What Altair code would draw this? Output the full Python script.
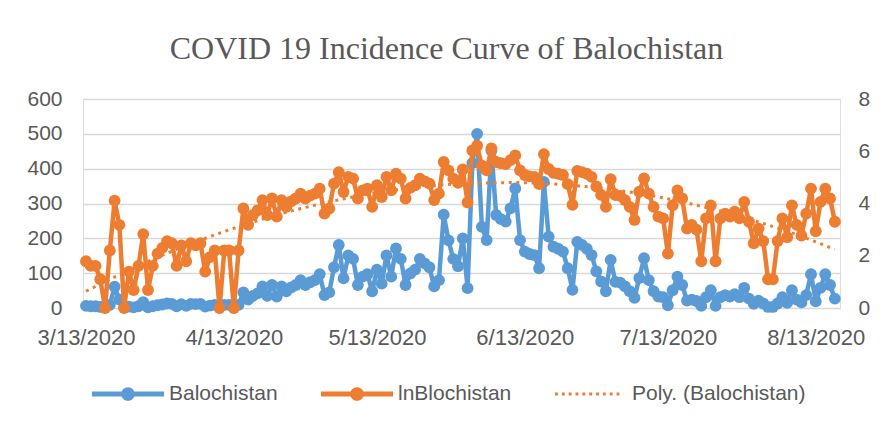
import altair as alt
import pandas as pd

# ---------------- data ----------------
start_date = "2020-03-13"

balochistan = [
    6, 5, 5, 3, 1, 9, 61, 24, 1, 4,
    2, 5, 17, 2, 5, 8, 10, 13, 12, 5,
    11, 6, 12, 11, 12, 4, 7, 9, 1, 9,
    9, 1, 9, 45, 24, 35, 42, 62, 35, 66,
    33, 62, 48, 59, 66, 80, 66, 74, 80, 97,
    37, 45, 117, 181, 85, 151, 141, 66, 90, 97,
    48, 110, 70, 151, 90, 171, 141, 66, 99, 110,
    141, 128, 117, 62, 80, 268, 194, 141, 120, 200,
    57, 416, 500, 233, 195, 452, 267, 255, 248, 286,
    343, 195, 162, 155, 152, 114, 362, 205, 176, 170,
    162, 114, 52, 190, 181, 170, 152, 105, 76, 48,
    138, 75, 73, 62, 48, 29, 86, 143, 80, 48,
    33, 31, 8, 51, 90, 66, 21, 24, 20, 6,
    31, 51, 6, 31, 37, 33, 40, 31, 58, 27,
    12, 21, 13, 3, 3, 13, 31, 15, 51, 24,
    16, 37, 97, 19, 58, 97, 66, 27,
]

ln_balochistan = [
    1.79, 1.61, 1.61, 1.10, 0.00, 2.20, 4.11, 3.18, 0.00, 1.39,
    0.69, 1.61, 2.83, 0.69, 1.61, 2.08, 2.30, 2.56, 2.48, 1.61,
    2.40, 1.79, 2.48, 2.40, 2.48, 1.39, 1.95, 2.20, 0.00, 2.20,
    2.20, 0.00, 2.20, 3.81, 3.18, 3.56, 3.74, 4.13, 3.56, 4.19,
    3.50, 4.13, 3.87, 4.08, 4.19, 4.38, 4.19, 4.30, 4.38, 4.57,
    3.61, 3.81, 4.76, 5.20, 4.44, 5.02, 4.95, 4.19, 4.50, 4.57,
    3.87, 4.70, 4.25, 5.02, 4.50, 5.14, 4.95, 4.19, 4.60, 4.70,
    4.95, 4.85, 4.76, 4.13, 4.38, 5.59, 5.27, 4.95, 4.79, 5.30,
    4.04, 6.03, 6.21, 5.45, 5.27, 6.11, 5.59, 5.54, 5.51, 5.66,
    5.84, 5.27, 5.09, 5.04, 5.02, 4.74, 5.89, 5.32, 5.17, 5.14,
    5.09, 4.74, 3.95, 5.25, 5.20, 5.14, 5.02, 4.65, 4.33, 3.87,
    4.93, 4.32, 4.29, 4.13, 3.87, 3.37, 4.45, 4.96, 4.38, 3.87,
    3.50, 3.43, 2.08, 3.93, 4.50, 4.19, 3.04, 3.18, 3.00, 1.79,
    3.43, 3.93, 1.79, 3.43, 3.61, 3.50, 3.69, 3.43, 4.06, 3.30,
    2.48, 3.04, 2.56, 1.10, 1.10, 2.56, 3.43, 2.71, 3.93, 3.18,
    2.77, 3.61, 4.57, 2.94, 4.06, 4.57, 4.19, 3.30,
]

trend_days = [0, 10, 20, 30, 40, 50, 60, 70, 80, 90, 100, 110, 120, 130, 140, 150, 157]
trend_values = [0.64, 1.53, 2.32, 2.99, 3.56, 4.02, 4.38, 4.63, 4.77, 4.80,
                4.72, 4.54, 4.25, 3.85, 3.35, 2.74, 2.24]

series_names = ["Balochistan", "lnBlochistan", "Poly. (Balochistan)"]
left_ticks = [0, 100, 200, 300, 400, 500, 600]
right_ticks = [0, 2, 4, 6, 8]
tick_months = [3, 4, 5, 6, 7, 8]
chart_title = "COVID 19 Incidence Curve of Balochistan"

# ---------------- styles ----------------
BLUE = "#5b9bd5"
ORANGE = "#ed7d31"
GREY_TEXT = "#595959"
GRID = "#d9d9d9"
SANS = "Liberation Sans"
SERIF = "Liberation Serif"

dates = pd.date_range(start_date, periods=len(balochistan), freq="D").strftime("%Y-%m-%d")
df = pd.DataFrame({"date": dates, "Balochistan": balochistan, "lnBlochistan": ln_balochistan})
trend_df = pd.DataFrame({
    "date": (pd.Timestamp(start_date) + pd.to_timedelta(trend_days, unit="D")).strftime("%Y-%m-%d"),
    "trend": trend_values,
})

x_enc = alt.X(
    "date:T",
    scale=alt.Scale(
        type="utc",
        domain=[alt.DateTime(year=2020, month=3, date=12, hours=9, utc=True),
                alt.DateTime(year=2020, month=8, date=18, hours=2, utc=True)],
    ),
    axis=alt.Axis(
        values=[alt.DateTime(year=2020, month=m, date=13, utc=True) for m in tick_months],
        labelExpr="utcFormat(datum.value, '%-m/%-d/%Y')",
        grid=False, ticks=False, tickSize=0, domain=False,
        labelPadding=19, labelFont=SANS, labelFontSize=22, labelColor=GREY_TEXT,
        labelFlush=False, labelOverlap=False, title=None,
    ),
)

left_axis = alt.Axis(
    values=left_ticks, orient="left", grid=True, gridColor=GRID, gridWidth=1.3,
    ticks=False, tickSize=0, domain=False, labelPadding=21, labelFont=SANS,
    labelFontSize=21, labelColor=GREY_TEXT, title=None,
)
right_axis = alt.Axis(
    values=right_ticks, orient="right", grid=False, ticks=False, tickSize=0,
    domain=False, labelPadding=18, labelFont=SANS, labelFontSize=21,
    labelColor=GREY_TEXT, title=None,
)

blue_layer = alt.Chart(df).mark_line(
    color=BLUE, strokeWidth=4.5, strokeJoin="round",
    point=alt.OverlayMarkDef(filled=True, size=140, color=BLUE, opacity=1),
).encode(
    x=x_enc,
    y=alt.Y("Balochistan:Q", scale=alt.Scale(domain=[0, 600], nice=False), axis=left_axis),
)

orange_layer = alt.Chart(df).mark_line(
    color=ORANGE, strokeWidth=4.5, strokeJoin="round",
    point=alt.OverlayMarkDef(filled=True, size=140, color=ORANGE, opacity=1),
).encode(
    x=x_enc,
    y=alt.Y("lnBlochistan:Q", scale=alt.Scale(domain=[0, 8], nice=False), axis=right_axis),
)

trend_layer = alt.Chart(trend_df).mark_line(
    color=ORANGE, strokeWidth=3, strokeDash=[3, 4.6], interpolate="monotone",
).encode(
    x=x_enc,
    y=alt.Y("trend:Q", scale=alt.Scale(domain=[0, 8], nice=False), axis=right_axis),
)

# legend symbols (unit coordinates, scaled by the legend symbol size)
line_dot_path = ("M-1,-0.07H1V0.07H-1Z "
                 "M0.19,0A0.19,0.19,0,1,1,-0.19,0A0.19,0.19,0,1,1,0.19,0Z")
dots = []
n_dots = 10
for i in range(n_dots):
    x0 = -1 + i * (1.71 / (n_dots - 1))
    dots.append(f"M{x0:.3f},-0.04H{x0 + 0.08:.3f}V0.04H{x0:.3f}Z")
dotted_path = " ".join(dots)

legend_cfg = alt.Legend(
    title=None, orient="none", legendX=9, legendY=259, direction="horizontal",
    symbolSize=5184, symbolStrokeWidth=0, symbolOpacity=1,
    labelFont=SANS, labelFontSize=21, labelColor=GREY_TEXT, labelOffset=5,
    labelLimit=400, columnPadding=43, padding=0,
)
legend_df = pd.DataFrame({"series": series_names})
legend_layer = alt.Chart(legend_df).mark_point(filled=True, opacity=0).encode(
    x=alt.value(0),
    y=alt.value(0),
    color=alt.Color("series:N", scale=alt.Scale(domain=series_names, range=[BLUE, ORANGE, ORANGE]),
                    legend=legend_cfg),
    shape=alt.Shape("series:N", scale=alt.Scale(domain=series_names,
                                                range=[line_dot_path, line_dot_path, dotted_path]),
                    legend=legend_cfg),
)

chart = alt.layer(
    alt.layer(blue_layer, legend_layer),
    alt.layer(orange_layer, trend_layer),
).resolve_scale(y="independent").properties(
    width=757,
    height=209,
    autosize=alt.AutoSizeParams(type="none"),
    padding={"left": 75, "top": 91, "right": 32, "bottom": 110},
    title=alt.TitleParams(
        chart_title, font=SERIF, fontSize=32, fontWeight="normal", color=GREY_TEXT,
        anchor="middle", dx=-15, offset=22,
    ),
).configure_view(stroke=None).configure(background="white")

chart.save("out.html", embed_options={"renderer": "svg", "actions": False})
